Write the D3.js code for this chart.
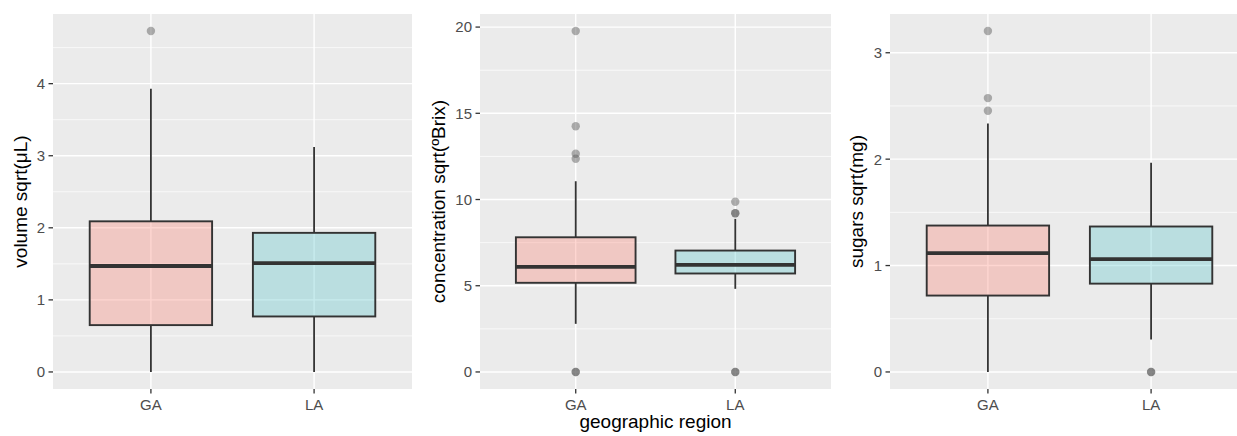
<!DOCTYPE html>
<html>
<head>
<meta charset="utf-8">
<script src="https://cdn.jsdelivr.net/npm/d3@7"></script>
<style>
  body { margin: 0; background: #fff; }
  svg { display: block; font-family: "Liberation Sans", Arial, sans-serif; }
</style>
</head>
<body>
<svg id="chart" width="1237" height="436"></svg>
<script>
// ---------- data ----------
const regions = ["GA", "LA"];
const fillColors = ["#FC7666", "#48C0C6"];

// box stats: [lower whisker, Q1, median, Q3, upper whisker] per region
const volumeStats = [[0, 0.65, 1.47, 2.09, 3.93], [0, 0.77, 1.51, 1.93, 3.12]];
const volumeOutliers = [[4.73], []];
const volumeTicks = [0, 1, 2, 3, 4];

const concStats = [[2.79, 5.17, 6.09, 7.81, 11.06], [4.82, 5.71, 6.21, 7.04, 8.88]];
const concOutliers = [[19.77, 14.25, 12.65, 12.36, 0, 0], [9.87, 9.2, 9.2, 0, 0]];
const concTicks = [0, 5, 10, 15, 20];

const sugarsStats = [[0, 0.718, 1.116, 1.376, 2.336], [0.304, 0.83, 1.06, 1.367, 1.966]];
const sugarsOutliers = [[3.204, 2.574, 2.455], [0, 0]];
const sugarsTicks = [0, 1, 2, 3];

const yTitles = ["volume sqrt(\u03bcL)", "concentration sqrt(\u00baBrix)", "sugars sqrt(mg)"];
const xTitle = "geographic region";

// ---------- layout ----------
const panels = [
  { stats: volumeStats, outliers: volumeOutliers, ticks: volumeTicks, title: yTitles[0], x0: 53, x1: 412, titleX: 27 },
  { stats: concStats, outliers: concOutliers, ticks: concTicks, title: yTitles[1], x0: 480, x1: 831, titleX: 445 },
  { stats: sugarsStats, outliers: sugarsOutliers, ticks: sugarsTicks, title: yTitles[2], x0: 890, x1: 1249, titleX: 863 }
];
const plotTop = 14, plotBottom = 389;
const svg = d3.select("#chart");

panels.forEach(p => {
  const allVals = p.stats.flat().concat(p.outliers.flat());
  const lo = d3.min(allVals), hi = d3.max(allVals);
  const pad = (hi - lo) * 0.05;
  const y = d3.scaleLinear().domain([lo - pad, hi + pad]).range([plotBottom, plotTop]);
  const x = d3.scaleLinear().domain([0.4, 2.6]).range([p.x0, p.x1]);
  const xc = i => x(i + 1);

  const g = svg.append("g");
  g.append("rect").attr("x", p.x0).attr("y", plotTop)
    .attr("width", p.x1 - p.x0).attr("height", plotBottom - plotTop).attr("fill", "#EBEBEB");

  // minor grid
  const step = p.ticks[1] - p.ticks[0];
  const minor = [];
  for (let v = p.ticks[0] - step / 2; v <= hi + pad; v += step) {
    if (v >= lo - pad) minor.push(v);
  }
  g.selectAll(".minor").data(minor).join("line")
    .attr("x1", p.x0).attr("x2", p.x1)
    .attr("y1", d => y(d)).attr("y2", d => y(d))
    .attr("stroke", "#fff").attr("stroke-width", 0.7);

  // major grid
  g.selectAll(".major").data(p.ticks).join("line")
    .attr("x1", p.x0).attr("x2", p.x1)
    .attr("y1", d => y(d)).attr("y2", d => y(d))
    .attr("stroke", "#fff").attr("stroke-width", 1.4);
  g.selectAll(".vmajor").data(regions).join("line")
    .attr("x1", (d, i) => xc(i)).attr("x2", (d, i) => xc(i))
    .attr("y1", plotTop).attr("y2", plotBottom)
    .attr("stroke", "#fff").attr("stroke-width", 1.4);

  // y axis ticks & labels
  g.selectAll(".ytick").data(p.ticks).join("line")
    .attr("x1", p.x0 - 4.5).attr("x2", p.x0)
    .attr("y1", d => y(d)).attr("y2", d => y(d))
    .attr("stroke", "#333").attr("stroke-width", 1.3);
  g.selectAll(".ylab").data(p.ticks).join("text")
    .attr("x", p.x0 - 8).attr("y", d => y(d))
    .attr("dy", "0.36em").attr("text-anchor", "end")
    .attr("font-size", 15).attr("fill", "#4D4D4D")
    .text(d => d);

  // x axis ticks & labels
  g.selectAll(".xtick").data(regions).join("line")
    .attr("x1", (d, i) => xc(i)).attr("x2", (d, i) => xc(i))
    .attr("y1", plotBottom).attr("y2", plotBottom + 4.5)
    .attr("stroke", "#333").attr("stroke-width", 1.3);
  g.selectAll(".xlab").data(regions).join("text")
    .attr("x", (d, i) => xc(i)).attr("y", 409.5)
    .attr("text-anchor", "middle")
    .attr("font-size", 15).attr("fill", "#4D4D4D")
    .text(d => d);

  // y title
  g.append("text")
    .attr("transform", `translate(${p.titleX},${(plotTop + plotBottom) / 2}) rotate(-90)`)
    .attr("text-anchor", "middle").attr("font-size", 19).attr("fill", "#000")
    .text(p.title);

  // boxes
  const hw = 0.375;
  p.stats.forEach((s, i) => {
    const c = i + 1;
    const bg = g.append("g");
    bg.append("line")
      .attr("x1", x(c)).attr("x2", x(c)).attr("y1", y(s[4])).attr("y2", y(s[3]))
      .attr("stroke", "#333").attr("stroke-width", 1.8);
    bg.append("line")
      .attr("x1", x(c)).attr("x2", x(c)).attr("y1", y(s[1])).attr("y2", y(s[0]))
      .attr("stroke", "#333").attr("stroke-width", 1.8);
    bg.append("rect")
      .attr("x", x(c - hw)).attr("width", x(c + hw) - x(c - hw))
      .attr("y", y(s[3])).attr("height", y(s[1]) - y(s[3]))
      .attr("fill", fillColors[i]).attr("fill-opacity", 0.3)
      .attr("stroke", "#333").attr("stroke-width", 1.9);
    bg.append("line")
      .attr("x1", x(c - hw)).attr("x2", x(c + hw)).attr("y1", y(s[2])).attr("y2", y(s[2]))
      .attr("stroke", "#333").attr("stroke-width", 3.8);
    g.selectAll(null).data(p.outliers[i]).join("circle")
      .attr("cx", x(c)).attr("cy", d => y(d)).attr("r", 4.2)
      .attr("fill", "#555").attr("fill-opacity", 0.45);
  });
});

// x title
svg.append("text")
  .attr("x", (panels[1].x0 + panels[1].x1) / 2).attr("y", 428)
  .attr("text-anchor", "middle").attr("font-size", 19).attr("fill", "#000")
  .text(xTitle);
</script>
</body>
</html>
